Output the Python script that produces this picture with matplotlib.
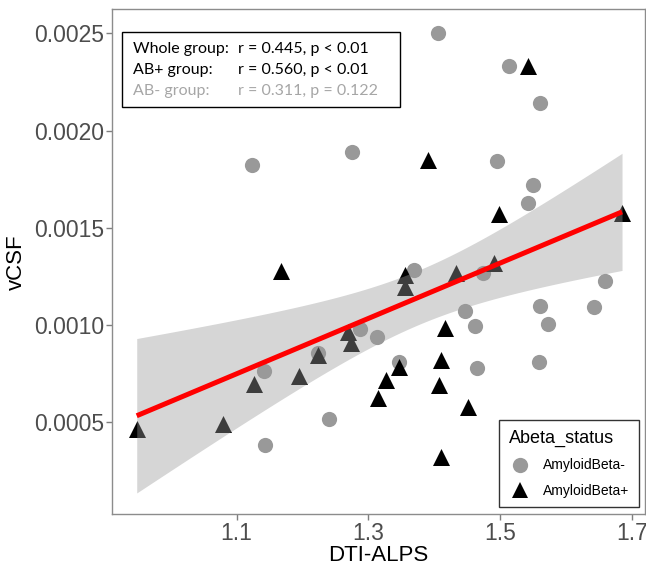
import numpy as np
import matplotlib
matplotlib.use('Agg')
import matplotlib.pyplot as plt
from matplotlib.patches import Rectangle
from matplotlib.lines import Line2D

plt.rcParams['font.family'] = ['Liberation Sans', 'DejaVu Sans']

# AmyloidBeta- (grey circles)
neg_x = [1.124, 1.276, 1.405, 1.514, 1.560, 1.495, 1.550, 1.542, 1.144, 1.240,
         1.142, 1.223, 1.287, 1.313, 1.370, 1.474, 1.659, 1.560, 1.642, 1.446,
         1.462, 1.573, 1.347, 1.465, 1.559]
neg_y = [0.001824, 0.001892, 0.002504, 0.002333, 0.002144, 0.001846, 0.001721,
         0.001627, 0.000384, 0.000518, 0.000766, 0.000859, 0.000979, 0.000937,
         0.001284, 0.001267, 0.001229, 0.001100, 0.001095, 0.001075, 0.000996,
         0.001005, 0.000813, 0.000779, 0.000813]

# AmyloidBeta+ (black triangles)
pos_x = [1.542, 1.390, 1.498, 1.685, 0.9486, 1.1675, 1.079, 1.127, 1.195, 1.223,
         1.269, 1.273, 1.355, 1.355, 1.433, 1.491, 1.417, 1.411, 1.346, 1.327,
         1.408, 1.315, 1.452, 1.410]
pos_y = [0.002333, 0.001850, 0.001572, 0.001576, 0.000465, 0.001280, 0.000492,
         0.000700, 0.000739, 0.000847, 0.000967, 0.000907, 0.001258, 0.001198,
         0.001270, 0.001319, 0.000984, 0.000821, 0.000787, 0.000719, 0.000693,
         0.000624, 0.000581, 0.000324]

stats_labels = ['Whole group:', 'AB+ group:', 'AB- group:']
stats_values = ['r = 0.445, p < 0.01', 'r = 0.560, p < 0.01', 'r = 0.311, p = 0.122']
stats_colors = ['black', 'black', '#a6a6a6']

x_ticks = [1.1, 1.3, 1.5, 1.7]
y_ticks = [0.0005, 0.0010, 0.0015, 0.0020, 0.0025]

# linear fit on the whole group with 95% band (like geom_smooth(method='lm'))
all_x = np.array(neg_x + pos_x)
all_y = np.array(neg_y + pos_y)
n = len(all_x)
b1, b0 = np.polyfit(all_x, all_y, 1)
resid = all_y - (b0 + b1 * all_x)
s = np.sqrt(np.sum(resid ** 2) / (n - 2))
sxx = np.sum((all_x - all_x.mean()) ** 2)
t_crit = 2.01  # t(0.975, df ~ 47)
xs = np.linspace(all_x.min(), all_x.max(), 80)
fit = b0 + b1 * xs
half = t_crit * s * np.sqrt(1.0 / n + (xs - all_x.mean()) ** 2 / sxx)

fig = plt.figure(figsize=(6.46, 5.71), dpi=100)
ax = fig.add_axes([0.1738, 0.0998, 0.8247, 0.8836])

ax.scatter(neg_x, neg_y, s=120, marker='o', color='#999999', linewidths=0, zorder=2)
ax.scatter(pos_x, pos_y, s=150, marker='^', color='black', linewidths=0, zorder=2)
ax.fill_between(xs, fit - half, fit + half, color='#999999', alpha=0.4,
                linewidth=0, zorder=3)
ax.plot(xs, fit, color='red', lw=3.6, zorder=4, solid_capstyle='butt')

ax.set_xlim(0.9115, 1.7199)
ax.set_ylim(0.0000296, 0.002623)
ax.set_xticks(x_ticks)
ax.set_xticklabels(['%.1f' % v for v in x_ticks])
ax.set_yticks(y_ticks)
ax.set_yticklabels(['%.4f' % v for v in y_ticks])
ax.tick_params(colors='#7f7f7f', labelcolor='#4d4d4d', labelsize=16.5,
               length=4, width=1, pad=2)
for sp in ax.spines.values():
    sp.set_color('#8c8c8c')
    sp.set_linewidth(1)

ax.set_xlabel('DTI-ALPS', fontsize=16, labelpad=0)
ax.set_ylabel('vCSF', fontsize=16, labelpad=5)

# stats box
ax.add_patch(Rectangle((0.0188, 0.806), 0.5212, 0.150, transform=ax.transAxes,
                       fill=True, facecolor='white', edgecolor='black', lw=1,
                       zorder=5))
for i in range(3):
    yy = 0.922 - i * 0.0415
    ax.text(0.0394, yy, stats_labels[i], transform=ax.transAxes, fontsize=11.5,
            family='Lato', color=stats_colors[i], va='center', ha='left', zorder=6)
    ax.text(0.2365, yy, stats_values[i], transform=ax.transAxes, fontsize=11.5,
            family='Lato', color=stats_colors[i], va='center', ha='left', zorder=6)

handles = [Line2D([], [], ls='none', marker='o', ms=11, color='#999999', mew=0),
           Line2D([], [], ls='none', marker='^', ms=12, color='black', mew=0)]
leg = ax.legend(handles, ['AmyloidBeta-', 'AmyloidBeta+'], title='Abeta_status',
                loc='lower right', bbox_to_anchor=(0.989, 0.0133),
                borderaxespad=0, fontsize=10, title_fontsize=13,
                frameon=True, fancybox=False, edgecolor='black',
                handletextpad=0.9, labelspacing=0.8, borderpad=0.7,
                handlelength=1.6, alignment='left')
leg.get_frame().set_linewidth(1)
leg.set_zorder(7)

fig.savefig('out.png', dpi=100)
